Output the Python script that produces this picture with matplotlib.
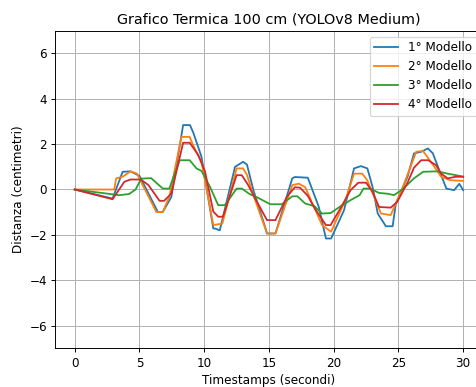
import matplotlib
matplotlib.use("Agg")
import matplotlib.pyplot as plt

# breakpoints (seconds, centimetres)
t_m1 = [0, 2.92, 3.7, 4.3, 5.0, 6.42, 6.8, 7.46, 8.37, 8.9, 9.16, 9.79, 10.7, 10.83, 11.2,
        12.38, 13.0, 13.3, 13.8, 14.7, 14.85, 15.5, 16.8, 17.0, 18.0, 18.85, 19.4, 19.8,
        20.8, 21.57, 22.1, 22.6, 23.0, 23.4, 24.03, 24.55, 24.8, 25.7, 26.2, 26.75, 27.27,
        27.65, 28.3, 28.7, 29.3, 29.7, 30.0]
y_m1 = [0, -0.40, 0.78, 0.80, 0.60, -0.99, -0.99, -0.33, 2.84, 2.84, 2.50, 1.44, -1.72, -1.72, -1.80,
        1.00, 1.22, 1.10, -0.03, -1.65, -1.94, -1.94, 0.49, 0.55, 0.52, -0.77, -2.16, -2.16,
        -0.91, 0.93, 1.03, 0.93, 0.12, -1.06, -1.62, -1.62, -0.62, 0.56, 1.59, 1.66, 1.81,
        1.60, 0.63, 0.04, -0.03, 0.25, -0.03]

t_m2 = [0, 3.05, 3.2, 3.7, 4.3, 4.8, 6.3, 6.8, 7.3, 8.24, 8.88, 9.1, 9.79, 10.7, 11.4,
        12.5, 13.0, 13.3, 13.8, 14.85, 15.5, 16.8, 17.3, 17.8, 19.1, 19.8,
        20.9, 21.57, 22.2, 22.6, 23.65, 24.4, 25.2, 26.37, 26.9, 27.5, 28.3, 29.0, 30.0]
y_m2 = [0, 0, 0.49, 0.56, 0.80, 0.70, -0.99, -0.99, -0.33, 2.32, 2.32, 2.00, 1.20, -1.57, -1.50,
        0.93, 0.93, 0.65, -0.25, -1.94, -1.94, 0.19, 0.26, 0.10, -1.57, -1.86,
        -0.47, 0.70, 0.70, 0.40, -1.06, -1.13, -0.10, 1.66, 1.70, 1.22, 0.56, 0.41, 0.38]

t_m3 = [0, 3.44, 4.2, 4.7, 5.13, 5.9, 6.8, 7.3, 8.1, 8.88, 9.4, 9.79, 10.44, 11.08, 11.6,
        12.5, 12.9, 13.5, 14.1, 15.1, 16.0, 16.8, 17.2, 17.8, 18.5, 19.1, 19.76,
        20.5, 21.3, 22.0, 22.3, 22.8, 23.5, 24.2, 24.65, 25.3, 26.2, 26.9, 28.0, 28.8, 30.0]
y_m3 = [0, -0.25, -0.20, 0, 0.48, 0.50, 0.04, 0.04, 1.29, 1.29, 0.93, 0.82, 0.12, -0.69, -0.69,
        0.04, 0.04, -0.20, -0.35, -0.65, -0.65, -0.30, -0.30, -0.62, -0.73, -1.06, -1.04,
        -0.75, -0.47, -0.25, 0.04, 0.04, -0.15, -0.19, -0.25, 0, 0.49, 0.78, 0.80, 0.70, 0.57]

t_m4 = [0, 2.92, 3.83, 4.3, 5.1, 5.7, 6.55, 6.9, 7.46, 8.37, 8.88, 9.53, 10.06, 10.7, 11.08, 11.45,
        12.5, 12.9, 13.4, 14.0, 14.85, 15.5, 16.4, 17.0, 17.4, 18.0, 18.5, 19.4, 19.76,
        20.55, 21.3, 21.9, 22.5, 23.0, 23.5, 24.4, 24.9, 25.7, 26.2, 26.75, 27.3, 27.9,
        28.3, 28.8, 29.4, 30.0]
y_m4 = [0, -0.43, 0.34, 0.44, 0.44, 0.19, -0.50, -0.50, -0.18, 2.06, 2.06, 1.53, 0.80, -0.97, -1.20, -1.20,
        0.63, 0.63, 0.19, -0.47, -1.35, -1.35, -0.31, 0.10, 0.08, -0.28, -0.80, -1.57, -1.57,
        -0.80, -0.03, 0.30, 0.30, -0.10, -0.77, -0.80, -0.55, 0.30, 0.96, 1.29, 1.29, 1.07,
        0.70, 0.49, 0.56, 0.56]

series = [
    ("1° Modello", t_m1, y_m1),
    ("2° Modello", t_m2, y_m2),
    ("3° Modello", t_m3, y_m3),
    ("4° Modello", t_m4, y_m4),
]

# reference looks like a default-size plot shrunk by ~0.86, so use dpi 86
fig = plt.figure(figsize=(476 / 86, 387 / 86), dpi=86)
# the original is cropped on the right, so the axes run past the figure edge
ax = fig.add_axes([0.1162, 0.100, 0.8977, 0.8207])

for label, t, y in series:
    ax.plot(t, y, label=label)

ax.set_ylim(-7, 7)
ax.set_title("Grafico Termica 100 cm (YOLOv8 Medium)")
ax.set_xlabel("Timestamps (secondi)")
ax.set_ylabel("Distanza (centimetri)")
ax.grid(True)
ax.legend(loc="upper right")

fig.savefig("out.png", dpi=86)
